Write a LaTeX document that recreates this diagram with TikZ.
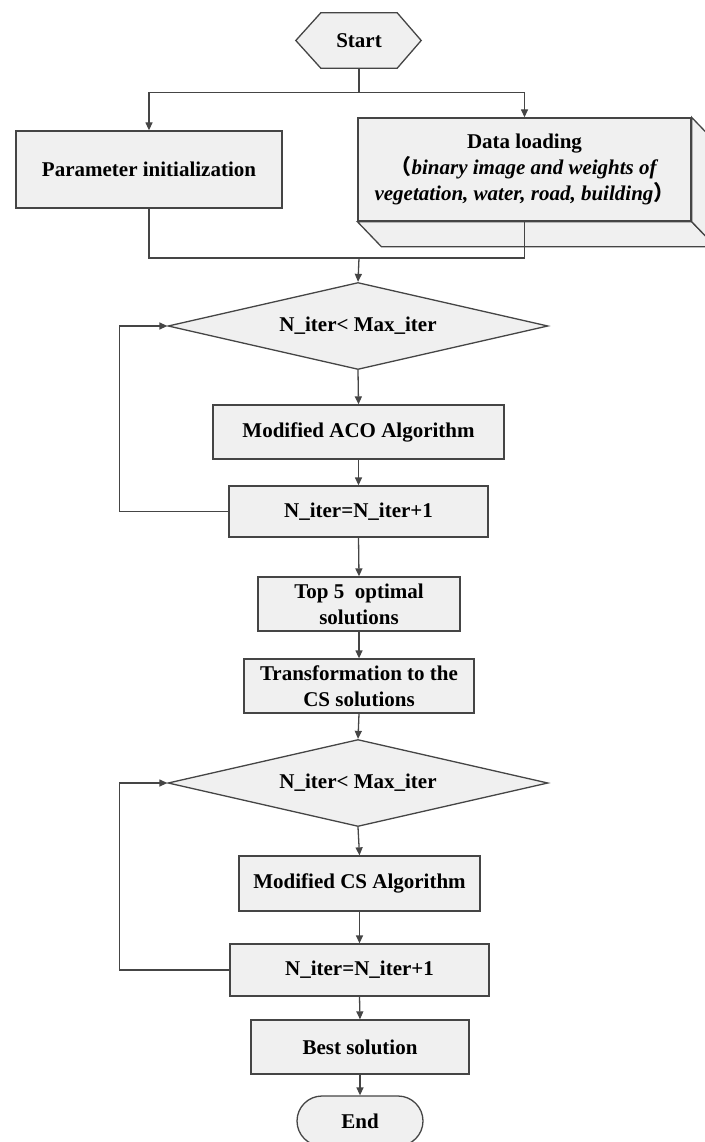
\documentclass[tikz,border=0pt]{standalone}
\usepackage{fontspec}
\setmainfont{Liberation Serif}
\newfontfamily\cjkparen{Noto Sans CJK SC}
\usetikzlibrary{shapes.geometric,arrows.meta,backgrounds}

\definecolor{boxfill}{HTML}{F0F0F0}
\definecolor{linegray}{HTML}{454545}

\tikzset{
  every node/.style={font=\fontsize{21}{26}\selectfont\bfseries, align=center},
  procbox/.style={rectangle, draw=linegray, fill=boxfill, line width=1.3pt, inner sep=0pt},
  decision/.style={diamond, draw=linegray, fill=boxfill, line width=1.3pt, inner sep=0pt,
                   aspect=4.4, minimum width=380pt, minimum height=87pt},
  terminal/.style={rectangle, rounded corners=25pt, draw=linegray, fill=boxfill, line width=1.3pt,
                   minimum width=126pt, minimum height=50pt},
  hexstart/.style={rectangle, inner sep=0pt, minimum width=76pt, minimum height=55pt},
  wire/.style={line width=1.3pt, draw=linegray},
  flow/.style={wire, -{Triangle[length=8pt,width=7pt]}},
}

\begin{document}
\begin{tikzpicture}[x=1pt,y=-1pt]
	\path[use as bounding box] (0,0) rectangle (704,1142);

	\node[hexstart] (start) at (359,40.5) {Start};

	\node[procbox, minimum width=266pt, minimum height=77pt] (param) at (149,169.5) {Parameter initialization};
	\node[procbox, minimum width=333pt, minimum height=103pt] (data) at (524.5,169.5)
		{Data loading\\ {\cjkparen （}\textit{binary image and weights of}\\ \textit{vegetation, water, road, building}{\cjkparen ）}};

	\node[decision] (d1) at (358,326) {N\_iter< Max\_iter};
	\node[procbox, minimum width=291pt, minimum height=54pt] (aco) at (358.5,432) {Modified ACO Algorithm};
	\node[procbox, minimum width=259pt, minimum height=51pt] (inc1) at (358.5,511.5) {N\_iter=N\_iter+1};

	\node[procbox, minimum width=202pt, minimum height=54pt] (top5) at (359,604) {Top 5\ \ optimal\\ solutions};
	\node[procbox, minimum width=230pt, minimum height=54pt] (trans) at (359,686) {Transformation to the\\ CS solutions};

	\node[decision] (d2) at (358,783) {N\_iter< Max\_iter};
	\node[procbox, minimum width=241pt, minimum height=55pt] (cs) at (359.5,883.5) {Modified CS Algorithm};
	\node[procbox, minimum width=259pt, minimum height=52pt] (inc2) at (359.5,970) {N\_iter=N\_iter+1};

	\node[procbox, minimum width=218pt, minimum height=54pt] (best) at (360,1047) {Best solution};
	\node[terminal] (end) at (360,1121) {End};

	% start hexagon and the depth of the data box
	\begin{scope}[on background layer]
		\filldraw[wire, fill=boxfill] (start.north west) -- (start.north east) -- ([xshift=24pt]start.east)
			-- (start.south east) -- (start.south west) -- ([xshift=-25pt]start.west) -- cycle;
	\end{scope}
	\filldraw[wire, fill=boxfill] (data.south west) -- ++(24,25) -- ([shift={(24,25)}]data.south east)
		-- (data.south east) -- cycle;
	\filldraw[wire, fill=boxfill] (data.north east) -- ([shift={(24,25)}]data.north east)
		-- ([shift={(24,25)}]data.south east) -- (data.south east) -- cycle;

	\coordinate (join) at (359,258);

    \draw[flow] (start.south) -- ++(0,24) -| (param.north);
    \draw[flow] (start.south) -- ++(0,24) -| (data.north);

    \draw[wire] (param.south) |- (join);
    \draw[wire] (data.south) |- (join);
    \draw[flow] (join) -- (d1.north);

    \draw[flow] (d1.south) -- (aco.north);
    \draw[flow] (aco.south) -- (inc1.north);
    \draw[flow] (inc1.west) -| ([xshift=-48pt]d1.west) -- (d1.west);

    \draw[flow] (inc1.south) -- (top5.north);
    \draw[flow] (top5.south) -- (trans.north);
    \draw[flow] (trans.south) -- (d2.north);

    \draw[flow] (d2.south) -- (cs.north);
    \draw[flow] (cs.south) -- (inc2.north);
    \draw[flow] (inc2.west) -| ([xshift=-48pt]d2.west) -- (d2.west);

    \draw[flow] (inc2.south) -- (best.north);
    \draw[flow] (best.south) -- (end.north);
\end{tikzpicture}
\end{document}
